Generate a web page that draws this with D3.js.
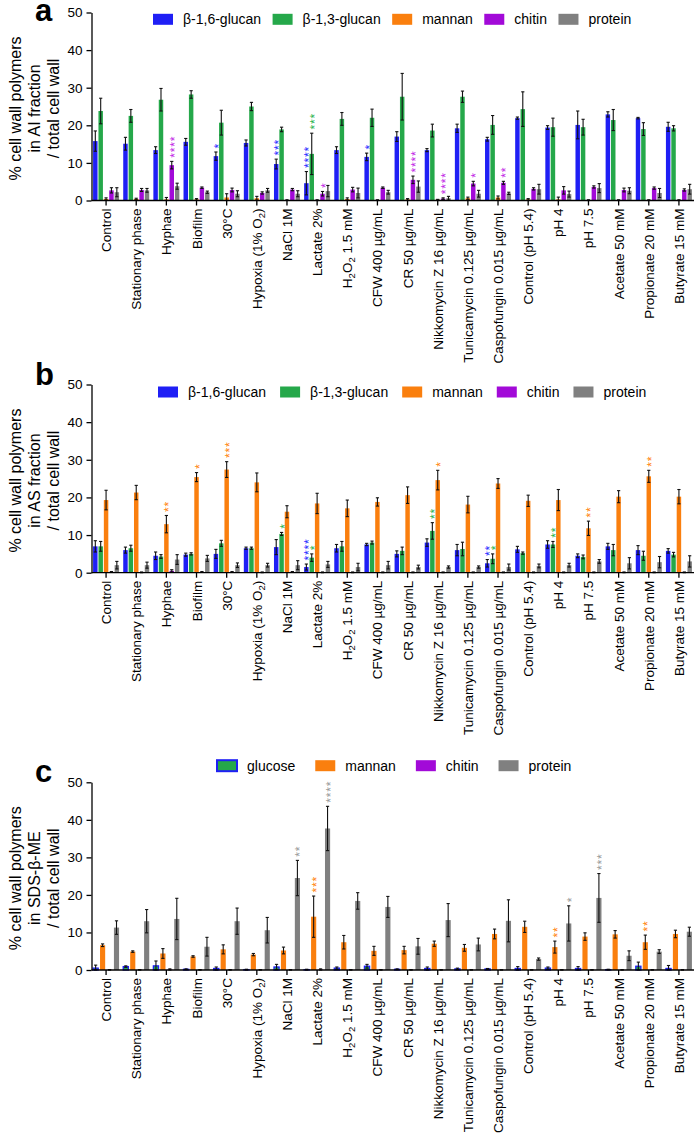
<!DOCTYPE html>
<html><head><meta charset="utf-8">
<script src="https://cdn.jsdelivr.net/npm/d3@7"></script>
<style>
body{margin:0;background:#fff}
text{font-family:"Liberation Sans",Arial,Helvetica,sans-serif}
</style>
</head><body>
<svg id="chart" width="694" height="1137"></svg>
<script>
// ---------- DATA ----------
const categories = ["Control","Stationary phase","Hyphae","Biofilm","30°C","Hypoxia (1% O_2)","NaCl 1M","Lactate 2%","H_2O_2 1.5 mM","CFW 400 µg/mL","CR 50 µg/mL","Nikkomycin Z 16 µg/mL","Tunicamycin 0.125 µg/mL","Caspofungin 0.015 µg/mL","Control (pH 5.4)","pH 4","pH 7.5","Acetate 50 mM","Propionate 20 mM","Butyrate 15 mM"];
const yTicks = [0,10,20,30,40,50];

// Panel a: AI fraction
const aGlc16    = [15.8,15.1,13.4,15.6,11.8,15.3,9.7,4.6,13.4,11.6,17.0,13.4,19.2,16.3,21.9,19.4,20.1,22.9,21.9,19.6];
const aGlc16Err = [2.7,1.7,0.9,0.9,1.1,0.8,1.3,3.1,0.9,1.0,1.3,0.4,1.1,0.5,0.3,0.5,3.7,0.7,0.2,1.2];
const aGlc13    = [23.8,22.5,26.8,28.2,20.7,25.0,18.9,12.4,21.7,22.0,27.6,18.6,27.6,20.1,24.3,19.5,19.5,21.4,19.0,19.2];
const aGlc13Err = [3.4,1.7,3.0,1.0,3.3,1.1,0.6,5.5,1.7,2.3,6.2,1.7,1.5,2.5,4.6,2.4,2.1,2.8,1.7,0.7];
const aMan      = [0.4,0.4,0.3,0.3,0.8,0.6,0.1,0.1,0.4,0.1,0.3,0.2,0.6,0.8,0.3,0.3,0.1,0.1,0.1,0.1];
const aManErr   = [0.3,0.2,0.5,0.2,1.0,0.5,0.1,0.1,0.3,0.1,0.2,0.1,0.3,0.4,0.2,0.6,0.1,0.1,0.1,0.1];
const aChi      = [2.7,2.8,9.4,3.4,2.8,2.0,2.9,1.8,2.9,3.4,5.5,0.5,4.5,4.7,3.1,2.7,3.6,2.8,3.3,2.8];
const aChiErr   = [0.7,0.4,1.0,0.2,0.5,0.3,0.3,0.6,0.6,0.2,1.0,0.2,0.6,0.4,0.3,1.0,0.3,0.5,0.3,0.3];
const aPro      = [2.2,2.7,3.8,2.2,1.8,2.7,1.8,2.5,2.0,2.2,3.7,0.6,1.8,1.9,3.0,1.7,3.3,2.6,2.0,3.0];
const aProErr   = [1.2,0.5,0.8,0.3,0.8,0.5,0.8,1.5,1.3,0.5,1.5,0.5,0.9,0.3,1.3,0.8,1.2,0.8,1.2,1.3];
const aStars = [["Hyphae","chi",4],["30°C","g16",1],["NaCl 1M","g16",3],["Lactate 2%","g16",4],["Lactate 2%","g13",3],["Lactate 2%","chi",1],["CFW 400 µg/mL","g16",1],["CR 50 µg/mL","chi",4],["Nikkomycin Z 16 µg/mL","chi",4],["Tunicamycin 0.125 µg/mL","chi",1],["Caspofungin 0.015 µg/mL","chi",2]];

// Panel b: AS fraction
const bGlc16    = [7.0,6.0,4.5,4.8,5.0,6.5,6.8,1.5,6.5,7.5,5.0,8.0,6.0,2.5,6.2,7.5,4.5,7.0,6.0,5.8];
const bGlc16Err = [1.5,0.8,1.0,0.4,1.2,0.3,2.0,0.8,1.0,0.3,0.8,1.0,1.5,1.0,0.8,1.0,0.5,0.8,1.2,0.6];
const bGlc13    = [7.0,6.5,4.3,5.0,7.8,6.5,10.3,4.0,7.0,8.0,5.8,11.1,6.3,3.7,5.2,7.5,4.2,6.0,4.5,4.8];
const bGlc13Err = [1.3,0.8,0.5,0.3,0.8,0.3,0.4,1.0,1.3,0.4,1.0,2.2,1.8,1.3,0.3,0.8,0.5,1.5,1.2,0.6];
const bMan      = [19.3,21.3,12.9,25.4,27.4,24.0,16.2,18.4,17.1,18.8,20.6,24.6,18.1,23.7,19.1,19.3,11.8,20.2,25.6,20.2];
const bManErr   = [2.6,1.9,2.3,1.2,2.1,2.5,1.6,2.7,2.2,1.1,2.2,2.6,2.2,1.3,1.5,2.8,1.9,1.6,1.6,1.9];
const bChi      = [0.2,0.1,0.5,0.2,0.2,0.1,0.2,0.1,0.1,0.1,0.1,0.1,0.1,0.1,0.1,0.1,0.1,0.1,0.1,0.1];
const bChiErr   = [0.1,0.1,0.3,0.1,0.1,0.1,0.1,0.1,0.1,0.1,0.1,0.1,0.1,0.1,0.1,0.1,0.1,0.1,0.1,0.1];
const bPro      = [2.0,2.0,3.5,3.8,2.0,2.0,2.0,2.2,1.5,2.0,1.5,1.5,1.5,1.5,1.8,2.0,3.0,2.5,2.8,3.0];
const bProErr   = [1.0,0.8,1.3,0.8,0.6,0.5,1.2,0.8,1.0,1.0,0.5,0.3,0.3,0.8,0.5,0.5,0.5,1.5,1.5,1.5];
const bStars = [["Hyphae","man",2],["Biofilm","man",1],["30°C","man",3],["NaCl 1M","g13",1],["Lactate 2%","g16",4],["Lactate 2%","g13",1],["Nikkomycin Z 16 µg/mL","man",1],["Nikkomycin Z 16 µg/mL","g13",2],["Caspofungin 0.015 µg/mL","g16",2],["Caspofungin 0.015 µg/mL","g13",1],["pH 4","g13",2],["pH 7.5","man",2],["Propionate 20 mM","man",2]];

// Panel c: SDS-β-ME
const cGlu      = [0.5,0.9,1.1,0.2,0.4,0.1,0.8,0.1,0.5,1.0,0.2,0.4,0.3,0.3,0.4,0.5,0.4,0.1,1.0,0.4];
const cGluErr   = [0.8,0.2,1.3,0.1,0.4,0.1,0.7,0.1,0.3,0.5,0.1,0.4,0.2,0.1,0.5,0.3,0.5,0.1,1.1,0.8];
const cMan      = [6.6,4.9,4.4,3.6,5.5,4.1,5.2,14.2,7.4,5.1,5.3,7.0,5.9,9.6,11.5,6.1,8.9,9.5,7.4,9.6];
const cManErr   = [0.35,0.2,1.3,0.2,1.2,0.3,0.9,5.5,1.8,1.2,1.0,0.7,0.9,1.3,1.5,1.6,1.0,1.0,1.9,1.0];
const cChi      = [0.05,0.05,0.1,0.05,0.05,0.05,0.05,0.1,0.05,0.05,0.05,0.05,0.05,0.05,0.05,0.05,0.05,0.05,0.05,0.05];
const cChiErr   = [0.05,0.05,0.2,0.05,0.05,0.05,0.05,0.2,0.05,0.05,0.05,0.05,0.05,0.05,0.05,0.05,0.05,0.05,0.05,0.05];
const cPro      = [11.3,13.0,13.6,6.2,13.0,10.6,24.5,37.7,18.4,16.8,6.3,13.3,6.8,13.1,2.9,12.4,19.2,3.8,4.9,10.2];
const cProErr   = [1.8,3.1,5.5,2.5,3.5,3.4,4.7,5.9,2.2,2.8,2.1,4.4,1.7,5.6,0.3,4.7,6.5,1.3,0.5,1.2];
const cStars = [["NaCl 1M","pro",2],["Lactate 2%","man",3],["Lactate 2%","pro",4],["pH 4","man",2],["pH 4","pro",1],["pH 7.5","pro",3],["Propionate 20 mM","man",2]];

// ---------- STYLE / LAYOUT ----------
const C = {blue:"#1f1ff5", green:"#25a84a", orange:"#fa7f0e", purple:"#a20ad8", gray:"#808080"};
const starC = {blue:"#2a2aff", green:"#2db34f", orange:"#ff8410", purple:"#c21fe6", gray:"#9a9a9a"};

const panels = [
  {letter:"a", letterY:21, yBottom:200.5, yTop:12.5, legendY:19.3, legendX:153, legendGap:11.5,
   title:["% cell wall polymers","in AI fraction","/ total cell wall"], stars:aStars, innerRange:[-13,13], pad:0.17,
   series:[
     {key:"g16", label:"β-1,6-glucan", color:"blue", v:aGlc16, e:aGlc16Err},
     {key:"g13", label:"β-1,3-glucan", color:"green", v:aGlc13, e:aGlc13Err},
     {key:"man", label:"mannan", color:"orange", v:aMan, e:aManErr},
     {key:"chi", label:"chitin", color:"purple", v:aChi, e:aChiErr},
     {key:"pro", label:"protein", color:"gray", v:aPro, e:aProErr}]},
  {letter:"b", letterY:385, yBottom:572.7, yTop:384.5, legendY:392, legendX:158, legendGap:14,
   title:["% cell wall polymers","in AS fraction","/ total cell wall"], stars:bStars, innerRange:[-13,13], pad:0.17,
   series:[
     {key:"g16", label:"β-1,6-glucan", color:"blue", v:bGlc16, e:bGlc16Err},
     {key:"g13", label:"β-1,3-glucan", color:"green", v:bGlc13, e:bGlc13Err},
     {key:"man", label:"mannan", color:"orange", v:bMan, e:bManErr},
     {key:"chi", label:"chitin", color:"purple", v:bChi, e:bChiErr},
     {key:"pro", label:"protein", color:"gray", v:bPro, e:bProErr}]},
  {letter:"c", letterY:782, yBottom:970, yTop:782.3, legendY:765.7, legendX:217, legendGap:20,
   title:["% cell wall polymers","in SDS-β-ME","/ total cell wall"], stars:cStars, innerRange:[-13,13], pad:0.26,
   series:[
     {key:"glu", label:"glucose", color:"green", stroke:"blue", v:cGlu, e:cGluErr},
     {key:"man", label:"mannan", color:"orange", v:cMan, e:cManErr},
     {key:"chi", label:"chitin", color:"purple", v:cChi, e:cChiErr},
     {key:"pro", label:"protein", color:"gray", v:cPro, e:cProErr}]}
];

const svg = d3.select("#chart");
const axisX = 91.5;
const x = d3.scaleBand().domain(categories).range([91, 694]).paddingInner(0).paddingOuter(0);
const cx = c => x(c) + x.bandwidth()/2;

function addLabel(sel, str){
  const parts = str.split(/_(\d)/);
  parts.forEach((p,i)=>{
    if(i%2===1) sel.append("tspan").attr("font-size",9.5).attr("dy",3).text(p);
    else if(p.length){ const t = sel.append("tspan").text(p); if(i>0) t.attr("dy",-3); }
  });
}

panels.forEach(P=>{
  const g = svg.append("g");
  const y = d3.scaleLinear().domain([0,50]).range([P.yBottom, P.yTop]);
  const inner = d3.scaleBand().domain(P.series.map(s=>s.key)).range(P.innerRange).paddingInner(P.pad);

  // letter
  g.append("text").attr("x",35).attr("y",P.letterY).attr("font-size",31).attr("font-weight","bold").text(P.letter);

  // y title
  const yc = (P.yBottom + P.yTop)/2 + 2;
  [21,40,59].forEach((bx,i)=>{
    g.append("text").attr("transform",`translate(${bx},${yc}) rotate(-90)`)
      .attr("text-anchor","middle").attr("font-size",16).text(P.title[i]);
  });

  // bars
  P.series.forEach(s=>{
    const sg = g.append("g");
    sg.selectAll("rect").data(categories.map((c,i)=>({c, v:s.v[i], e:s.e[i]}))).join("rect")
      .attr("x", d=>cx(d.c)+inner(s.key))
      .attr("width", inner.bandwidth())
      .attr("y", d=>y(d.v))
      .attr("height", d=>y(0)-y(d.v))
      .attr("fill", C[s.color])
      .attr("stroke", s.stroke ? C[s.stroke] : "none")
      .attr("stroke-width", s.stroke ? 1.3 : 0);
  });
  // error bars
  P.series.forEach(s=>{
    const eg = g.append("g").attr("stroke","#111").attr("stroke-width",1.1);
    categories.forEach((c,i)=>{
      const bx = cx(c)+inner(s.key)+inner.bandwidth()/2;
      const top = y(s.v[i]+s.e[i]), bot = y(Math.max(0, s.v[i]-s.e[i]));
      eg.append("line").attr("x1",bx).attr("x2",bx).attr("y1",top).attr("y2",bot);
      eg.append("line").attr("x1",bx-1.6).attr("x2",bx+1.6).attr("y1",top).attr("y2",top);
      eg.append("line").attr("x1",bx-1.6).attr("x2",bx+1.6).attr("y1",bot).attr("y2",bot);
    });
  });
  // significance stars: one rotated text per stack
  P.stars.forEach(([c,key,n])=>{
    const s = P.series.find(d=>d.key===key);
    const i = categories.indexOf(c);
    const bx = cx(c)+inner(key)+inner.bandwidth()/2;
    const top = y(s.v[i]+s.e[i]);
    g.append("text")
      .attr("transform",`translate(${bx+7},${top-3.6}) rotate(-90)`)
      .attr("text-anchor","start").attr("font-size",12).attr("letter-spacing",0.83)
      .attr("fill",starC[s.color]).text("*".repeat(n));
  });

  // axes
  const ya = g.append("g").attr("transform",`translate(${axisX},0)`)
    .call(d3.axisLeft(y).tickValues(yTicks).tickSize(5).tickSizeOuter(0).tickPadding(4));
  ya.selectAll("text").attr("font-size",13.5).attr("fill","#000").style("font-family","'Liberation Sans',Arial,sans-serif");
  ya.selectAll("line,path").attr("stroke","#000").attr("stroke-width",1.3);

  const xa = g.append("g").attr("transform",`translate(0,${P.yBottom})`)
    .call(d3.axisBottom(x).tickSize(5).tickSizeOuter(0).tickFormat(""));
  xa.select(".domain").attr("d",`M${axisX},0H694`);
  xa.selectAll("line,path").attr("stroke","#000").attr("stroke-width",1.3);

  categories.forEach(c=>{
    const t = g.append("text").attr("transform",`translate(${cx(c)},${P.yBottom+8}) rotate(-90)`)
      .attr("text-anchor","end").attr("y",5).attr("font-size",13.5);
    addLabel(t, c);
  });

  // legend
  let lx = P.legendX;
  P.series.forEach(s=>{
    g.append("rect").attr("x",lx).attr("y",P.legendY-5.5).attr("width",20).attr("height",11)
      .attr("fill",C[s.color]).attr("stroke", s.stroke ? C[s.stroke] : "none").attr("stroke-width", s.stroke?2:0);
    const t = g.append("text").attr("x",lx+30).attr("y",P.legendY+5).attr("font-size",14).text(s.label);
    lx = lx + 30 + t.node().getComputedTextLength() + P.legendGap;
  });
});
</script>
</body></html>
